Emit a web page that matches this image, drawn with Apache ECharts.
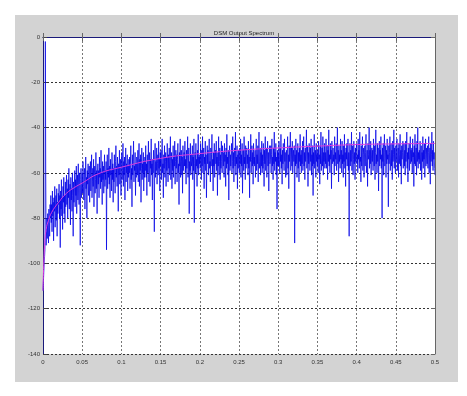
<!DOCTYPE html>
<html>
<head>
<meta charset="utf-8">
<script src="https://cdn.jsdelivr.net/npm/echarts@6/dist/echarts.min.js"></script>
<style>
html,body{margin:0;padding:0;background:#fff;}
#c{width:467px;height:396px;}
</style>
</head>
<body>
<div id="c"></div>
<script>
// Title and axes
const chartTitle = "DSM Output Spectrum";
const yTicks = [0, -20, -40, -60, -80, -100, -120, -140];
const xTicks = [0, 0.05, 0.1, 0.15, 0.2, 0.25, 0.3, 0.35, 0.4, 0.45, 0.5];

// FFT bin spacing (normalised frequency)
const binWidth = 0.0005;

// Spectrum magnitude (dB), one value per bin (20 bins per row = 0.01)
const spectrumDb = [
  -112,-108,-104,-100,-97,-94,-2,-60,-92,-86,-80,-89,-78,-84,-91,-76,-82,-88,-74,-80,
  -70,-82,-74,-86,-68,-79,-73,-90,-71,-77,-66,-84,-75,-70,-81,-67,-88,-73,-78,-69,
  -74,-65,-80,-70,-93,-68,-76,-63,-79,-71,-85,-66,-73,-62,-78,-70,-82,-64,-75,-69,
  -61,-74,-67,-80,-63,-71,-58,-76,-69,-65,-83,-62,-72,-67,-77,-60,-70,-88,-64,-73,
  -66,-59,-75,-63,-70,-57,-78,-65,-61,-72,-56,-68,-74,-60,-67,-92,-63,-58,-71,-65,
  -60,-69,-55,-66,-72,-61,-58,-76,-63,-53,-67,-62,-80,-59,-65,-56,-70,-64,-57,-73,
  -62,-55,-68,-60,-52,-71,-64,-58,-66,-54,-75,-61,-57,-69,-63,-51,-67,-59,-78,-60,
  -56,-65,-59,-71,-53,-62,-58,-67,-50,-64,-60,-74,-55,-63,-57,-69,-61,-52,-66,-59,
  -63,-55,-94,-60,-52,-67,-58,-62,-49,-65,-57,-71,-54,-61,-59,-68,-51,-63,-56,-73,
  -58,-64,-52,-60,-69,-55,-48,-62,-57,-66,-53,-59,-77,-56,-61,-50,-65,-58,-54,-70,
  -57,-51,-63,-59,-47,-66,-55,-61,-53,-72,-58,-49,-64,-56,-60,-52,-68,-57,-62,-54,
  -60,-53,-67,-56,-48,-63,-58,-75,-52,-61,-55,-46,-64,-57,-59,-51,-70,-56,-62,-53,
  -55,-61,-50,-64,-57,-47,-66,-54,-59,-52,-73,-58,-49,-63,-56,-60,-51,-68,-55,-62,
  -53,-59,-48,-62,-56,-70,-52,-60,-55,-46,-64,-57,-51,-66,-54,-58,-45,-61,-56,-72,
  -54,-60,-50,-57,-86,-53,-47,-62,-55,-59,-49,-65,-56,-52,-61,-46,-58,-54,-68,-51,
  -57,-50,-63,-54,-45,-60,-56,-71,-52,-58,-48,-62,-55,-51,-66,-53,-59,-47,-57,-64,
  -52,-58,-49,-61,-55,-44,-63,-56,-51,-67,-54,-59,-48,-62,-53,-57,-46,-65,-55,-50,
  -58,-52,-64,-54,-47,-60,-56,-74,-51,-57,-45,-62,-55,-50,-61,-53,-69,-48,-59,-54,
  -51,-57,-46,-60,-54,-65,-50,-58,-53,-44,-62,-56,-49,-78,-55,-59,-47,-61,-52,-57,
  -55,-48,-63,-53,-59,-45,-82,-56,-51,-60,-47,-57,-54,-66,-50,-58,-43,-61,-53,-56,
  -52,-58,-47,-55,-63,-50,-57,-44,-60,-54,-49,-67,-53,-56,-46,-59,-52,-71,-55,-48,
  -56,-50,-61,-53,-45,-58,-55,-64,-49,-57,-52,-43,-60,-54,-68,-51,-57,-47,-62,-53,
  -50,-56,-46,-59,-53,-70,-51,-57,-44,-61,-55,-49,-63,-52,-58,-46,-55,-60,-48,-54,
  -57,-51,-62,-47,-55,-52,-66,-49,-58,-43,-56,-53,-61,-50,-72,-54,-48,-59,-52,-57,
  -53,-47,-60,-55,-44,-58,-51,-64,-54,-49,-57,-42,-61,-53,-56,-48,-67,-52,-58,-50,
  -55,-60,-49,-56,-45,-62,-52,-57,-47,-69,-54,-50,-59,-44,-56,-53,-63,-48,-58,-51,
  -49,-56,-52,-61,-46,-58,-53,-71,-50,-55,-43,-60,-54,-48,-57,-51,-65,-47,-56,-53,
  -57,-50,-62,-54,-45,-59,-52,-56,-48,-64,-53,-42,-58,-55,-49,-61,-51,-57,-46,-60,
  -52,-58,-47,-55,-66,-50,-56,-44,-59,-53,-49,-62,-54,-46,-57,-51,-68,-55,-48,-56,
  -54,-48,-60,-52,-45,-57,-53,-63,-49,-56,-42,-59,-51,-55,-47,-61,-53,-76,-50,-57,
  -51,-57,-46,-54,-60,-49,-55,-43,-58,-52,-65,-50,-56,-47,-53,-59,-45,-55,-51,-62,
  -56,-50,-61,-53,-44,-58,-52,-67,-48,-55,-51,-42,-59,-54,-49,-57,-46,-60,-53,-50,
  -55,-48,-91,-52,-57,-45,-56,-50,-62,-53,-47,-58,-51,-64,-49,-55,-43,-57,-52,-60,
  -50,-56,-46,-59,-53,-44,-57,-51,-63,-49,-55,-52,-41,-58,-54,-48,-66,-51,-56,-47,
  -53,-59,-49,-55,-45,-61,-52,-57,-48,-70,-51,-56,-43,-58,-53,-50,-62,-47,-55,-52,
  -57,-50,-60,-46,-54,-52,-65,-48,-56,-42,-59,-53,-49,-57,-44,-61,-51,-55,-47,-58,
  -51,-56,-45,-58,-53,-48,-63,-50,-55,-41,-57,-52,-60,-47,-54,-50,-67,-46,-56,-53,
  -49,-55,-52,-61,-44,-57,-51,-54,-47,-59,-53,-40,-56,-50,-64,-48,-55,-52,-58,-45,
  -54,-50,-60,-46,-56,-52,-62,-48,-55,-43,-58,-51,-66,-49,-54,-47,-57,-53,-45,-59,
  -51,-88,-53,-47,-57,-50,-55,-42,-59,-52,-48,-61,-54,-46,-56,-51,-63,-49,-55,-50,
  -47,-56,-52,-60,-45,-54,-50,-58,-42,-55,-53,-64,-48,-57,-51,-44,-59,-52,-49,-62,
  -53,-48,-57,-51,-43,-60,-55,-50,-66,-47,-54,-52,-40,-58,-50,-56,-46,-61,-53,-49,
  -55,-50,-59,-45,-53,-57,-48,-63,-51,-41,-56,-52,-60,-47,-55,-49,-68,-53,-46,-57,
  -50,-54,-44,-58,-52,-80,-49,-55,-47,-61,-51,-43,-57,-53,-48,-62,-50,-56,-45,-54,
  -52,-75,-48,-56,-51,-44,-59,-53,-47,-57,-50,-63,-46,-55,-52,-41,-58,-49,-54,-60,
  -48,-55,-51,-45,-59,-53,-49,-62,-47,-56,-52,-43,-57,-50,-65,-48,-54,-51,-46,-58,
  -53,-47,-57,-50,-61,-46,-55,-52,-42,-58,-51,-64,-49,-54,-47,-59,-52,-44,-56,-50,
  -55,-49,-60,-45,-53,-51,-66,-48,-56,-43,-57,-52,-49,-61,-46,-55,-40,-58,-51,-54,
  -50,-56,-46,-59,-52,-48,-63,-51,-55,-44,-58,-50,-54,-47,-62,-52,-45,-57,-49,-53,
  -56,-48,-58,-51,-44,-60,-53,-49,-65,-47,-55,-52,-42,-57,-50,-59,-46,-54,-51,-58,
  -61
];

// Smoothed (averaged) spectrum trend: [frequency, dB]
const trendFreq = [0, 0.002, 0.004, 0.007, 0.011, 0.02, 0.03, 0.04, 0.05, 0.07, 0.1, 0.15, 0.2, 0.25, 0.3, 0.35, 0.4, 0.45, 0.5];
const trendDb   = [-112, -92, -85, -81, -77.5, -73, -69, -66.5, -64.5, -60.5, -57.5, -53.6, -51.5, -50, -49, -48.2, -47.5, -47.2, -47];

const spectrumData = spectrumDb.map((v, i) => [i * binWidth, v]);
const trendData = trendFreq.map((f, i) => [f, trendDb[i]]);

const font = "'Liberation Sans', Arial, sans-serif";
const labelStyle = { fontFamily: font, fontSize: 6, color: '#333' };

const chart = echarts.init(document.getElementById('c'), null, { renderer: 'canvas' });
chart.setOption({
  animation: false,
  backgroundColor: '#ffffff',
  graphic: [{
    type: 'rect', z: -10, silent: true,
    shape: { x: 15, y: 15, width: 443, height: 367 },
    style: { fill: '#d3d3d3' }
  }],
  title: {
    text: chartTitle, left: 239, top: 25, textAlign: 'center',
    textStyle: { fontFamily: font, fontSize: 6, fontWeight: 'normal', color: '#222' }
  },
  grid: { left: 43, right: 32, top: 37, bottom: 42, show: true, backgroundColor: '#ffffff', borderWidth: 0 },
  xAxis: [{
    type: 'value', min: 0, max: 0.5, interval: 0.05, position: 'bottom',
    axisLine: { show: true, lineStyle: { color: '#666', width: 1 } },
    axisTick: { show: true, inside: true, length: 4, lineStyle: { color: '#666' } },
    axisLabel: Object.assign({ margin: 5, formatter: v => String(+v.toFixed(2)) }, labelStyle),
    splitLine: { show: true, lineStyle: { color: '#777', type: [2, 2], width: 1 } }
  }, {
    type: 'value', min: 0, max: 0.5, interval: 0.05, position: 'top',
    axisLine: { show: true, onZero: false, lineStyle: { color: '#1a1a7a', width: 1 } },
    axisTick: { show: true, inside: true, length: 4, lineStyle: { color: '#666' } },
    axisLabel: { show: false }, splitLine: { show: false }
  }],
  yAxis: [{
    type: 'value', min: -140, max: 0, interval: 20, position: 'left',
    axisLine: { show: true, onZero: false, lineStyle: { color: '#1a1a7a', width: 1 } },
    axisTick: { show: true, inside: true, length: 4, lineStyle: { color: '#444' } },
    axisLabel: Object.assign({ margin: 3 }, labelStyle),
    splitLine: { show: true, lineStyle: { color: '#333', type: [2, 2], width: 1 } }
  }, {
    type: 'value', min: -140, max: 0, interval: 20, position: 'right',
    axisLine: { show: true, onZero: false, lineStyle: { color: '#666', width: 1 } },
    axisTick: { show: true, inside: true, length: 4, lineStyle: { color: '#666' } },
    axisLabel: { show: false }, splitLine: { show: false }
  }],
  series: [{
    type: 'line', data: spectrumData, xAxisIndex: 0, yAxisIndex: 0,
    showSymbol: false, symbol: 'none', sampling: null,
    lineStyle: { color: '#0000e6', width: 0.8, opacity: 0.92 }, z: 3
  }, {
    type: 'line', data: trendData, xAxisIndex: 0, yAxisIndex: 0,
    showSymbol: false, symbol: 'none', smooth: true,
    lineStyle: { color: '#dc3ce0', width: 1 }, z: 4
  }]
});
</script>
</body>
</html>
